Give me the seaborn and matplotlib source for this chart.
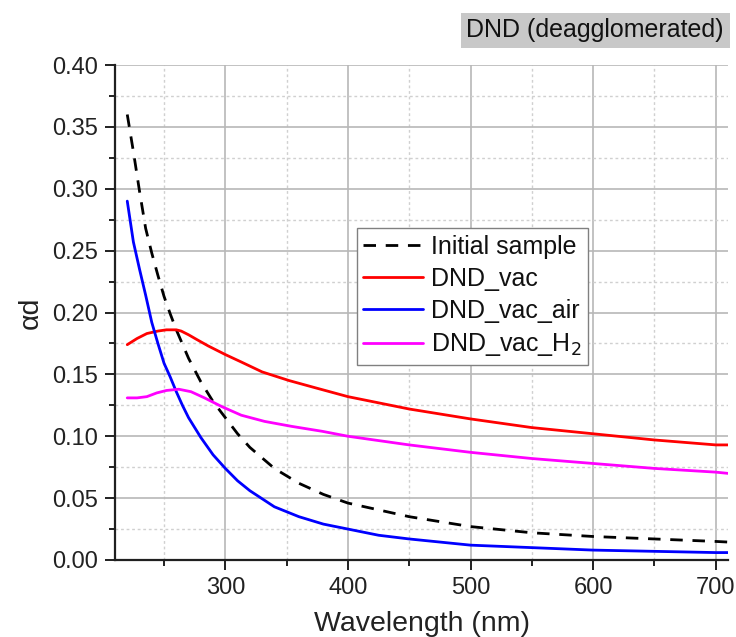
import numpy as np
import pandas as pd
import matplotlib
matplotlib.use("Agg")
import matplotlib.pyplot as plt
import seaborn as sns
from matplotlib.ticker import MultipleLocator

sns.set_theme(style="white")
plt.rcParams['font.family'] = ['Liberation Sans', 'DejaVu Sans']

# --- data ---
wl_init = [220, 225, 230, 235, 240, 245, 250, 255, 260, 270, 280, 290, 300, 310, 320,
           340, 360, 380, 400, 450, 500, 550, 600, 650, 700, 710]
initial = [0.360, 0.330, 0.298, 0.268, 0.248, 0.230, 0.213, 0.199, 0.186, 0.163, 0.144,
           0.128, 0.115, 0.102, 0.091, 0.074, 0.062, 0.053, 0.046, 0.035, 0.027, 0.022,
           0.019, 0.017, 0.015, 0.0145]

wl_air = [220, 225, 230, 235, 240, 245, 250, 255, 260, 265, 270, 280, 290, 300, 310, 320,
          340, 360, 380, 400, 425, 450, 500, 550, 600, 650, 700, 710]
vac_air = [0.290, 0.257, 0.235, 0.214, 0.192, 0.175, 0.159, 0.148, 0.136, 0.125, 0.115,
           0.099, 0.085, 0.074, 0.064, 0.056, 0.043, 0.035, 0.029, 0.025, 0.020, 0.017,
           0.012, 0.010, 0.008, 0.007, 0.006, 0.006]

wl_vac = [220, 228, 236, 245, 252, 260, 264, 270, 277, 286, 300, 313, 330, 352, 374, 400,
          450, 500, 550, 600, 650, 700, 710]
vac = [0.174, 0.179, 0.183, 0.185, 0.186, 0.186, 0.185, 0.182, 0.178, 0.173, 0.166, 0.160,
       0.152, 0.145, 0.139, 0.132, 0.122, 0.114, 0.107, 0.102, 0.097, 0.093, 0.093]

wl_h2 = [220, 228, 236, 244, 252, 262, 272, 283, 297, 313, 332, 354, 379, 400, 450, 500,
         550, 600, 650, 700, 710]
vac_h2 = [0.131, 0.131, 0.132, 0.135, 0.137, 0.138, 0.136, 0.131, 0.124, 0.117, 0.112,
          0.108, 0.104, 0.100, 0.093, 0.087, 0.082, 0.078, 0.074, 0.071, 0.070]

series = [
    ("Initial sample", wl_init, initial, "black", (0, (4.5, 3.5))),
    ("DND_vac", wl_vac, vac, "#ff0000", "-"),
    ("DND_vac_air", wl_air, vac_air, "#0000ff", "-"),
    ("DND_vac_H$_2$", wl_h2, vac_h2, "#ff00ff", "-"),
]

fig = plt.figure(figsize=(7.36, 6.37), dpi=100)
ax = fig.add_axes([115/736, 1-560/637, (728-115)/736, (560-65)/637])

for name, x, y, c, ls in series:
    df = pd.DataFrame({"x": x, "y": y})
    sns.lineplot(data=df, x="x", y="y", ax=ax, color=c, lw=2.0, label=name)
    ln = ax.lines[-1]
    ln.set_linestyle(ls)
    ln.set_solid_joinstyle('round')
    ln.set_dash_capstyle('butt')

ax.set_xlim(210, 710)
ax.set_ylim(0, 0.40)
ax.xaxis.set_major_locator(MultipleLocator(100))
ax.xaxis.set_minor_locator(MultipleLocator(50))
ax.yaxis.set_major_locator(MultipleLocator(0.05))
ax.yaxis.set_minor_locator(MultipleLocator(0.025))
ax.yaxis.set_major_formatter(matplotlib.ticker.FormatStrFormatter('%.2f'))

ax.grid(True, which='major', color='#b8b8b8', lw=1.2, ls='-')
ax.grid(True, which='minor', color='#d0d0d0', lw=1.0, ls=(0, (2, 2)))
ax.set_axisbelow(True)

for s in ['top', 'right']:
    ax.spines[s].set_visible(False)
for s in ['left', 'bottom']:
    ax.spines[s].set_color('#202020')
    ax.spines[s].set_linewidth(1.6)

ax.tick_params(which='major', direction='out', length=7, width=1.4, color='#202020',
               labelsize=17, left=True, bottom=True, pad=5, labelcolor='#222222')
ax.tick_params(which='minor', direction='out', length=4, width=1.4, color='#202020',
               left=True, bottom=True)

ax.set_xlabel("Wavelength (nm)", fontsize=20.5, color='#222222', labelpad=9)
ax.set_ylabel("αd", fontsize=20.5, color='#222222', labelpad=6)

leg = ax.legend(loc='upper left', bbox_to_anchor=(0.395, 0.67), fontsize=18,
                frameon=True, fancybox=False, edgecolor='#808080', framealpha=1,
                handlelength=2.4, handletextpad=0.3, labelspacing=0.33,
                borderpad=0.25, borderaxespad=0)
leg.get_frame().set_linewidth(1.0)
for t in leg.get_texts():
    t.set_color('#111111')

fig.text(724/736, 1-30/637, "DND (deagglomerated)", ha='right', va='center',
         fontsize=18, color='#111111',
         bbox=dict(facecolor='#c8c8c8', edgecolor='none', boxstyle='square,pad=0.22'))

fig.savefig("out.png", dpi=100)
